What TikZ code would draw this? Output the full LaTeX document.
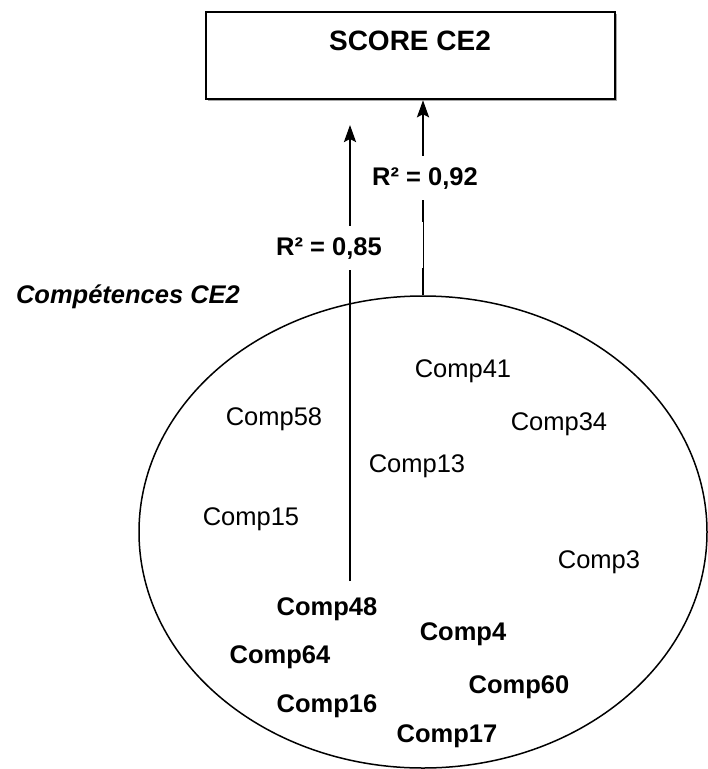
\documentclass[tikz,border=0pt]{standalone}
\usepackage{fontspec}
\setmainfont{Liberation Sans}
\usetikzlibrary{shapes.geometric,arrows.meta}
\tikzset{
  lbl/.style={anchor=base,inner sep=0pt,font=\fontsize{25.5}{30}\selectfont},
  blbl/.style={lbl,font=\fontsize{25.5}{30}\selectfont\bfseries},
  rlbl/.style={anchor=base,fill=white,inner xsep=2pt,inner ysep=11pt,font=\fontsize{25.5}{30}\selectfont\bfseries},
  arr/.style={line width=2.3pt,-{Stealth[length=17pt,width=12pt,inset=3pt]}},
}
\begin{document}
\begin{tikzpicture}[x=1pt,y=-1pt]
\useasboundingbox (0,0) rectangle (708,769);
% box
\fill[gray!70] (208,14) rectangle (617,101);
\node[draw,line width=2.5pt,fill=white,minimum width=409pt,minimum height=87pt,inner sep=0pt] (box) at (410.5,55.5) {};
\node[anchor=base,inner sep=0pt,font=\fontsize{28}{32}\selectfont\bfseries] (title) at (410,50) {SCORE CE2};
% ellipse
\node[draw,ellipse,line width=1.5pt,minimum width=568pt,minimum height=472pt,inner sep=0pt] (e) at (423,532) {};
% arrows
\coordinate (a1s) at (350,581);
\coordinate (a1e) at (350,125);
\draw[arr] (a1s) -- (a1e);
\draw[arr] (e.north) -- (e.north |- box.south);
\draw[white,line width=2.8pt] (423,222) -- (423,268);
\draw[line width=0.6pt] (423,222) -- (423,268);
% R labels
\node[rlbl] (r92) at (425,185) {R² = 0,92};
\node[rlbl] (r85) at (329,255) {R² = 0,85};
% group title
\node[anchor=base,inner sep=0pt,font=\fontsize{25.5}{30}\selectfont\bfseries\itshape] (grp) at (128,303) {Compétences CE2};
% competencies
\node[lbl] (c41) at (463,377) {Comp41};
\node[lbl] (c58) at (274,425) {Comp58};
\node[lbl] (c34) at (559,430) {Comp34};
\node[lbl] (c13) at (417,472) {Comp13};
\node[lbl] (c15) at (251,525) {Comp15};
\node[lbl] (c3) at (599,568) {Comp3};
\node[blbl] (c48) at (327,615) {Comp48};
\node[blbl] (c4) at (463,640) {Comp4};
\node[blbl] (c64) at (280,663) {Comp64};
\node[blbl] (c60) at (519,693) {Comp60};
\node[blbl] (c16) at (327,712) {Comp16};
\node[blbl] (c17) at (447,742) {Comp17};
\end{tikzpicture}
\end{document}
